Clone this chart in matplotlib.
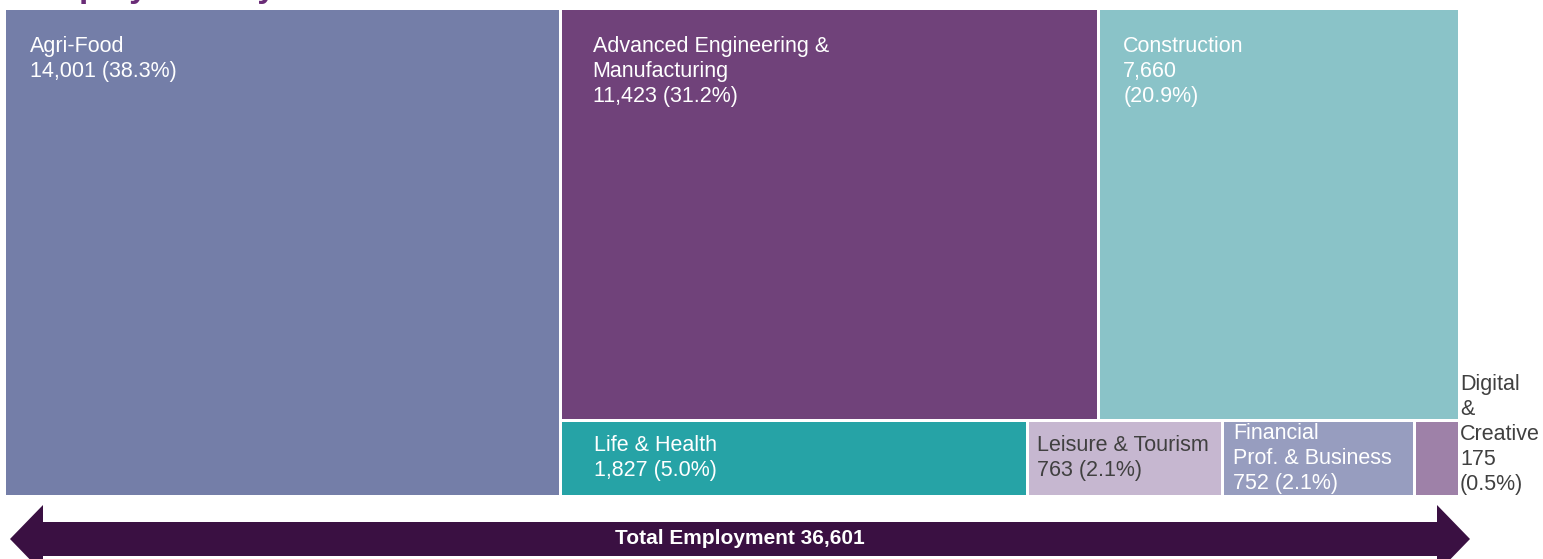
import matplotlib.pyplot as plt
from matplotlib.patches import Rectangle, Polygon

plt.rcParams['font.family'] = ['Liberation Sans', 'DejaVu Sans']

# data
sectors = ['Agri-Food', 'Advanced Engineering & Manufacturing', 'Construction',
           'Life & Health', 'Leisure & Tourism', 'Financial Prof. & Business',
           'Digital & Creative']
employment = [14001, 11423, 7660, 1827, 763, 752, 175]
shares = [38.3, 31.2, 20.9, 5.0, 2.1, 2.1, 0.5]
labels = ['Agri-Food\n14,001 (38.3%)',
          'Advanced Engineering &\nManufacturing\n11,423 (31.2%)',
          'Construction\n7,660\n(20.9%)',
          'Life & Health\n1,827 (5.0%)',
          'Leisure & Tourism\n763 (2.1%)',
          'Financial\nProf. & Business\n752 (2.1%)',
          'Digital\n&\nCreative\n175\n(0.5%)']
total = sum(employment)

colors = ['#747ea8', '#70427a', '#8ac3c8', '#26a3a6', '#c6b7d0', '#979dbf', '#9e81a8']
text_colors = ['white', 'white', 'white', 'white', '#404040', 'white', '#404040']
pad_x = [26, 32, 25, 33, 10, 11, 0]

# treemap layout in pixel space
X0, X1, Y0, Y1 = 4, 1459, 8, 496
gap = 3
fs = 15.5

fig = plt.figure(figsize=(15.43, 5.59), dpi=100)
ax = fig.add_axes([0, 0, 1, 1])
ax.set_xlim(0, 1543)
ax.set_ylim(559, 0)
ax.axis('off')

W = X1 - X0
H = Y1 - Y0
rects = []
wa = W * employment[0] / total
rects.append((X0, Y0, wa, H))
rest = total - employment[0]
top = employment[1:3]
bottom = employment[3:]
htop = H * sum(top) / rest
x = X0 + wa
for v in top:
    w = (W - wa) * v / sum(top)
    rects.append((x, Y0, w, htop))
    x += w
x = X0 + wa
for v in bottom:
    w = (W - wa) * v / sum(bottom)
    rects.append((x, Y0 + htop, w, H - htop))
    x += w

for i, (rx, ry, rw, rh) in enumerate(rects):
    ax.add_patch(Rectangle((rx + gap / 2, ry + gap / 2), rw - gap, rh - gap,
                           facecolor=colors[i], edgecolor='none'))
    if i < 3:
        ax.text(rx + pad_x[i], ry + 28, labels[i], color=text_colors[i],
                fontsize=fs, va='top', ha='left', linespacing=1.25)
    elif i < 6:
        ax.text(rx + pad_x[i], ry + rh / 2, labels[i], color=text_colors[i],
                fontsize=fs, va='center', ha='left', linespacing=1.25)
    else:
        ax.text(rx + rw + 1, ry + rh / 2 - 24, labels[i], color=text_colors[i],
                fontsize=fs, va='center', ha='left', linespacing=1.25)

# total arrow
arrow = Polygon([(10, 539), (43, 505), (43, 522), (1437, 522), (1437, 505),
                 (1470, 539), (1437, 573), (1437, 556), (43, 556), (43, 573)],
                closed=True, facecolor='#3a1042', edgecolor='none', clip_on=False)
ax.add_patch(arrow)
ax.text(740, 539, 'Total Employment {:,}'.format(total), color='white',
        fontsize=15, fontweight='bold', ha='center', va='center')

# title (cut off at the top edge)
ax.text(27, -3, 'Employment by Sector', color='#6a2c77', fontsize=24,
        fontweight='bold', ha='left', va='baseline', clip_on=False)

fig.savefig('out.png', dpi=100)
